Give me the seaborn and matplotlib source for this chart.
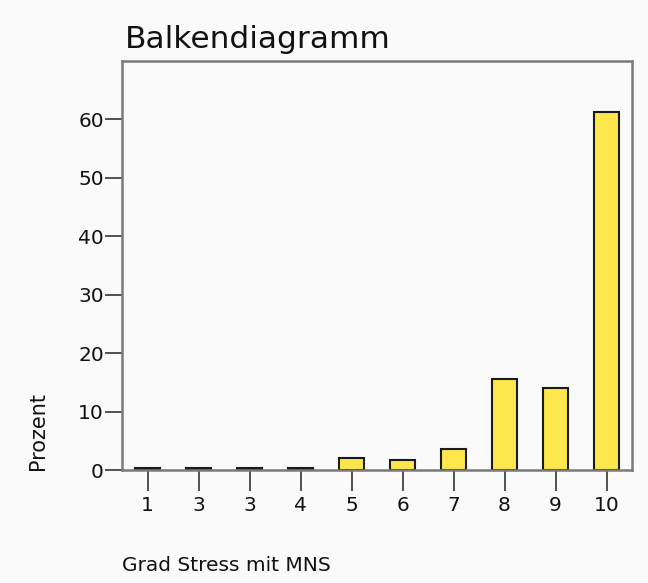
import matplotlib
matplotlib.use("Agg")
import matplotlib.pyplot as plt
import seaborn as sns
import pandas as pd

# values (percent per category)
positions = [0, 1, 2, 3, 4, 5, 6, 7, 8, 9]
tick_labels = ["1", "3", "3", "4", "5", "6", "7", "8", "9", "10"]
percent = [0.3, 0.3, 0.4, 0.3, 2.1, 1.75, 3.6, 15.6, 14.1, 61.3]

df = pd.DataFrame({"pos": positions, "Prozent": percent})

sns.set_theme(style="white")
plt.rcParams["font.family"] = ["DejaVu Sans"]

fig = plt.figure(figsize=(6.48, 5.83), dpi=100, facecolor="#fafafa")
ax = fig.add_axes([122 / 648, 113 / 583, 510 / 648, 409 / 583])
ax.set_facecolor("#fafafa")

sns.barplot(data=df, x="pos", y="Prozent", color="#fde74c", width=0.5,
            edgecolor="#1a1a1a", linewidth=1.5, saturation=1, ax=ax)

ax.set_xlim(-0.5, 9.5)
ax.set_ylim(0, 70)
ax.set_yticks([0, 10, 20, 30, 40, 50, 60])
ax.set_xticks(positions)
ax.set_xticklabels(tick_labels)

for side in ["left", "right", "top", "bottom"]:
    ax.spines[side].set_visible(True)
    ax.spines[side].set_color("#7a7a7a")
    ax.spines[side].set_linewidth(1.8)

ax.tick_params(axis="both", direction="out", width=1.3,
               color="#444444", labelsize=14.5, labelcolor="#111111",
               bottom=True, left=True)
ax.tick_params(axis="x", length=15, pad=4)
ax.tick_params(axis="y", length=12, pad=1)

ax.set_title("Balkendiagramm", loc="left", fontsize=22.5, color="#111111", pad=9, x=0.005)
ax.set_xlabel("Grad Stress mit MNS", loc="left", fontsize=14.5, color="#111111", labelpad=29)
ax.set_ylabel("Prozent", loc="bottom", fontsize=15, color="#111111", labelpad=22)

plt.savefig("out.png", dpi=100, facecolor=fig.get_facecolor())
